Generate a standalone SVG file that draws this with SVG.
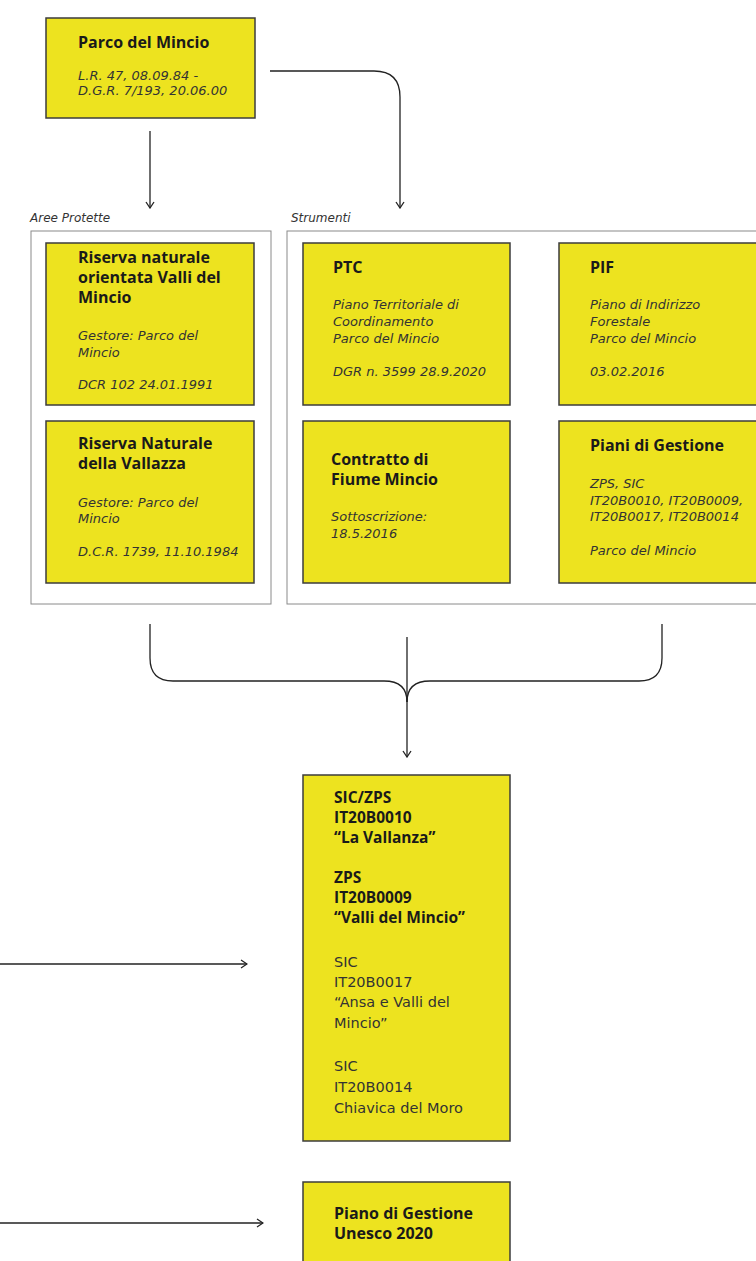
<svg xmlns="http://www.w3.org/2000/svg" width="756" height="1261" viewBox="0 0 756 1261">
<defs>
<style>
.node{fill:#ede31f;stroke:#3c3c3c;stroke-width:1.5}
.cont{fill:none;stroke:#8a8a8a;stroke-width:1}
.t{font-family:"Open Sans","Noto Sans",sans-serif;font-weight:700;font-size:16px;fill:#1a1a1a}
.i{font-family:"DejaVu Sans","Liberation Sans",sans-serif;font-style:italic;font-size:13px;fill:#333}
.r{font-family:"DejaVu Sans","Liberation Sans",sans-serif;font-size:14.5px;fill:#333}
.b{font-family:"Open Sans","Noto Sans",sans-serif;font-weight:700;font-size:15.5px;fill:#1a1a1a}
.lab{font-family:"DejaVu Sans","Liberation Sans",sans-serif;font-style:italic;font-size:12px;fill:#333}
.c{fill:none;stroke:#222;stroke-width:1.3}
</style>
<marker id="ah" viewBox="0 0 10 10" refX="9" refY="5" markerWidth="10" markerHeight="10" markerUnits="userSpaceOnUse" orient="auto">
<path d="M3,1 L9,5 L3,9" fill="none" stroke="#222" stroke-width="1.3"/>
</marker>
</defs>
<rect width="756" height="1261" fill="#fff"/>

<g id="connectors">
<path class="c" d="M150,131 V208" marker-end="url(#ah)"/>
<path class="c" d="M270,71 H374 Q400,71 400,97 V208" marker-end="url(#ah)"/>
<path class="c" d="M150,624 V658 Q150,681 173,681 H384 Q407,681 407,702"/>
<path class="c" d="M662,624 V658 Q662,681 639,681 H430 Q407,681 407,702"/>
<path class="c" d="M407,637 V757" marker-end="url(#ah)"/>
<path class="c" d="M0,964 H247" marker-end="url(#ah)"/>
<path class="c" d="M0,1223 H263" marker-end="url(#ah)"/>
</g>

<g id="parco">
<rect class="node" x="46" y="18" width="209" height="100"/>
<text class="t" x="78" y="48">Parco del Mincio</text>
<text class="i" x="78" y="80">L.R. 47, 08.09.84 -</text>
<text class="i" x="78" y="95">D.G.R. 7/193, 20.06.00</text>
</g>

<g id="aree">
<text class="lab" x="30" y="222">Aree Protette</text>
<rect class="cont" x="31" y="231" width="240" height="373"/>
</g>

<g id="strumenti">
<text class="lab" x="291" y="222">Strumenti</text>
<rect class="cont" x="287" y="231" width="480" height="373"/>
</g>

<g id="riserva1">
<rect class="node" x="46" y="243" width="208" height="162"/>
<text class="t" x="78" y="263">Riserva naturale</text>
<text class="t" x="78" y="283">orientata Valli del</text>
<text class="t" x="78" y="303">Mincio</text>
<text class="i" x="78" y="340">Gestore: Parco del</text>
<text class="i" x="78" y="357">Mincio</text>
<text class="i" x="78" y="389">DCR 102 24.01.1991</text>
</g>

<g id="riserva2">
<rect class="node" x="46" y="421" width="208" height="162"/>
<text class="t" x="78" y="449">Riserva Naturale</text>
<text class="t" x="78" y="469">della Vallazza</text>
<text class="i" x="78" y="507">Gestore: Parco del</text>
<text class="i" x="78" y="523">Mincio</text>
<text class="i" x="78" y="556">D.C.R. 1739, 11.10.1984</text>
</g>

<g id="ptc">
<rect class="node" x="303" y="243" width="207" height="162"/>
<text class="t" x="333" y="273">PTC</text>
<text class="i" x="333" y="309">Piano Territoriale di</text>
<text class="i" x="333" y="326">Coordinamento</text>
<text class="i" x="333" y="343">Parco del Mincio</text>
<text class="i" x="333" y="376">DGR  n. 3599 28.9.2020</text>
</g>

<g id="pif">
<rect class="node" x="559" y="243" width="210" height="162"/>
<text class="t" x="590" y="273">PIF</text>
<text class="i" x="590" y="309">Piano di Indirizzo</text>
<text class="i" x="590" y="326">Forestale</text>
<text class="i" x="590" y="343">Parco del Mincio</text>
<text class="i" x="590" y="376">03.02.2016</text>
</g>

<g id="contratto">
<rect class="node" x="303" y="421" width="207" height="162"/>
<text class="t" x="331" y="465">Contratto di</text>
<text class="t" x="331" y="485">Fiume Mincio</text>
<text class="i" x="331" y="521">Sottoscrizione:</text>
<text class="i" x="331" y="538">18.5.2016</text>
</g>

<g id="piani">
<rect class="node" x="559" y="421" width="210" height="162"/>
<text class="t" x="590" y="451">Piani di Gestione</text>
<text class="i" x="590" y="488">ZPS, SIC</text>
<text class="i" x="590" y="505">IT20B0010, IT20B0009,</text>
<text class="i" x="590" y="521">IT20B0017, IT20B0014</text>
<text class="i" x="590" y="555">Parco del Mincio</text>
</g>

<g id="sic">
<rect class="node" x="303" y="775" width="207" height="366"/>
<text class="b" x="334" y="803">SIC/ZPS</text>
<text class="b" x="334" y="823">IT20B0010</text>
<text class="b" x="334" y="843">“La Vallanza”</text>
<text class="b" x="334" y="883">ZPS</text>
<text class="b" x="334" y="903">IT20B0009</text>
<text class="b" x="334" y="923">“Valli del Mincio”</text>
<text class="r" x="334" y="967">SIC</text>
<text class="r" x="334" y="987">IT20B0017</text>
<text class="r" x="334" y="1007">“Ansa e Valli del</text>
<text class="r" x="334" y="1028">Mincio”</text>
<text class="r" x="334" y="1071">SIC</text>
<text class="r" x="334" y="1092">IT20B0014</text>
<text class="r" x="334" y="1113">Chiavica del Moro</text>
</g>

<g id="unesco">
<rect class="node" x="303" y="1182" width="207" height="90"/>
<text class="t" x="334" y="1219">Piano di Gestione</text>
<text class="t" x="334" y="1239">Unesco 2020</text>
</g>
</svg>
